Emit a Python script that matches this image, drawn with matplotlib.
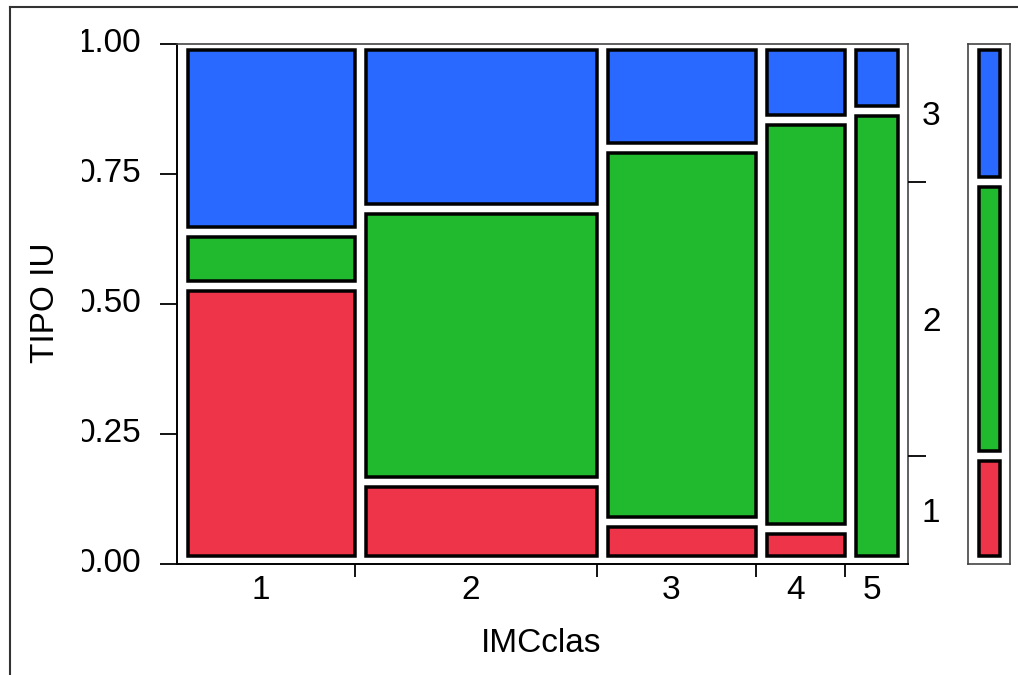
import matplotlib
matplotlib.use("Agg")
import matplotlib.pyplot as plt
from matplotlib.patches import Rectangle
from matplotlib.lines import Line2D
from matplotlib.transforms import Bbox
import numpy as np

plt.rcParams['font.family'] = ['Liberation Sans', 'DejaVu Sans']

# data (column share of IMCclas, cell share of TIPO IU)
imc_levels = ['1', '2', '3', '4', '5']
col_width = [0.2435, 0.331, 0.2175, 0.1218, 0.0862]
tipo_levels = ['1', '2', '3']
share_1 = [0.535, 0.158, 0.080, 0.068, 0.0]
share_2 = [0.103, 0.524, 0.720, 0.786, 0.871]
share_3 = [0.362, 0.318, 0.200, 0.146, 0.129]
colors = ['#EE3449', '#21BA2F', '#2A69FF']

W, H = 1018, 675
fig = plt.figure(figsize=(W / 100, H / 100), dpi=100)


def ax_rect(x0, y0, x1, y1):
    # pixel box -> figure fraction
    return [x0 / W, 1 - y1 / H, (x1 - x0) / W, (y1 - y0) / H]


ax = fig.add_axes(ax_rect(177, 44, 908, 564))
ax.set_xlim(0, 1)
ax.set_ylim(0, 1)
axw, axh = 731, 520

shares = np.array([share_1, share_2, share_3])
shares = shares / shares.sum(axis=0)
xb = np.concatenate([[0], np.cumsum(col_width)])
xb = xb / xb[-1]

edge_px = 3.5
half = edge_px / 2
for i in range(len(imc_levels)):
    ybot = 0.0
    for j in range(len(tipo_levels)):
        ytop = ybot + shares[j, i]
        if shares[j, i] <= 0:
            continue
        x0 = xb[i] + (9 + half) / axw
        if i == len(imc_levels) - 1:
            x1 = 1 - (8 + half) / axw
        else:
            x1 = xb[i + 1] + (2 - half) / axw
        bi = 6 + half if ybot <= 0 else 5
        ti = 4 + half if ytop >= 0.999 else 5
        y0 = ybot + bi / axh
        y1 = ytop - ti / axh
        ax.add_patch(Rectangle((x0, y0), x1 - x0, y1 - y0, facecolor=colors[j],
                               edgecolor='black', linewidth=edge_px * 0.72,
                               joinstyle='miter'))
        ybot = ytop

for s in ['left', 'bottom']:
    ax.spines[s].set_linewidth(1.4)
    ax.spines[s].set_color('black')
for s in ['top', 'right']:
    ax.spines[s].set_linewidth(1.2)
    ax.spines[s].set_color('#444444')

# y ticks; the labels are cut off on the left as in the report window
yt = [0, 0.25, 0.5, 0.75, 1.0]
ax.set_yticks(yt)
ax.set_yticklabels([])
ax.tick_params(axis='y', length=12, width=1.3)
clip = Bbox.from_extents(82, 0, W, H)
for v in yt:
    t = fig.text(141 / W, 1 - (564 - v * axh) / H, f'{v:.2f}', fontsize=24,
                 ha='right', va='center')
    t.set_clip_on(True)
    t.set_clip_box(clip)

ax.set_xticks(xb[1:-1])
ax.set_xticklabels([])
ax.tick_params(axis='x', which='major', length=9, width=1.3, direction='out')
centers = (xb[:-1] + xb[1:]) / 2 - 5 / axw
ax.set_xticks(centers, minor=True)
ax.set_xticklabels(imc_levels, minor=True)
ax.tick_params(axis='x', which='minor', length=0, pad=8, labelsize=24)

# right side: marginal TIPO IU shares
marg = shares @ np.array(col_width) / np.sum(col_width)
mb = np.concatenate([[0], np.cumsum(marg)])
ax2 = ax.twinx()
ax2.set_ylim(0, 1)
ax2.set_yticks(mb[1:-1])
ax2.set_yticklabels([])
ax2.tick_params(axis='y', which='major', length=13, width=1.3)
ax2.set_yticks((mb[:-1] + mb[1:]) / 2, minor=True)
ax2.set_yticklabels(tipo_levels, minor=True)
ax2.tick_params(axis='y', which='minor', length=0, pad=10, labelsize=24)
for s in ax2.spines.values():
    s.set_visible(False)

fig.text(541 / W, 1 - 644 / H, 'IMCclas', fontsize=24, ha='center', va='center')
fig.text(46 / W, 1 - 303 / H, 'TIPO IU', fontsize=24, ha='center', va='center',
         rotation=90)

# marginal bar on the far right
axm = fig.add_axes(ax_rect(968, 44, 1010, 564))
axm.set_xlim(0, 1)
axm.set_ylim(0, 1)
mw = 42
ybot = 0.0
for j in range(len(tipo_levels)):
    ytop = ybot + marg[j]
    bi = 6 + half if j == 0 else 5
    ti = 4 + half if j == len(tipo_levels) - 1 else 5
    x0, x1 = (9 + half) / mw, 1 - (8 + half) / mw
    axm.add_patch(Rectangle((x0, ybot + bi / axh), x1 - x0,
                            (ytop - ti / axh) - (ybot + bi / axh),
                            facecolor=colors[j], edgecolor='black',
                            linewidth=edge_px * 0.72, joinstyle='miter'))
    ybot = ytop
axm.set_xticks([])
axm.set_yticks([])
for s in axm.spines.values():
    s.set_linewidth(1.2)
    s.set_color('#444444')

# outer frame of the report window
fig.add_artist(Line2D([10 / W, 1], [1 - 7 / H, 1 - 7 / H], color='#333333',
                      linewidth=1.5))
fig.add_artist(Line2D([10 / W, 10 / W], [0, 1 - 7 / H], color='#333333',
                      linewidth=1.5))

fig.savefig('out.png', dpi=100)
